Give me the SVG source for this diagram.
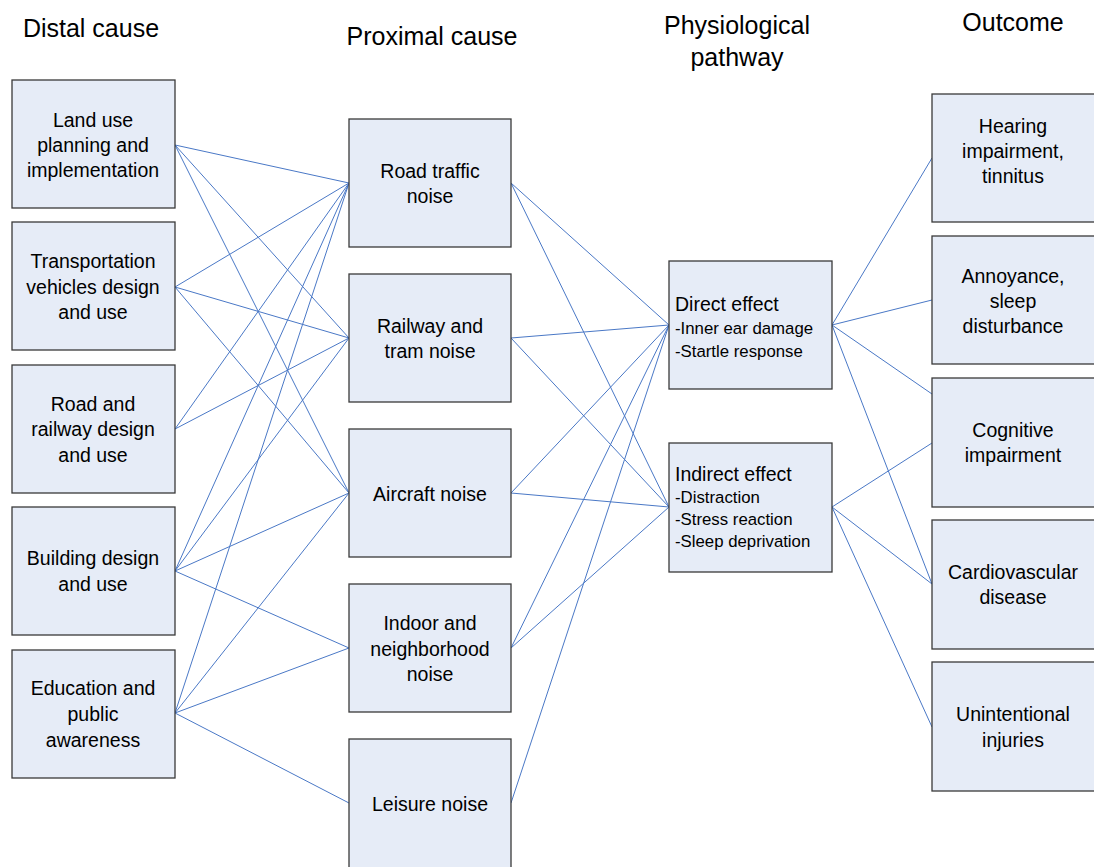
<svg xmlns="http://www.w3.org/2000/svg" width="1094" height="867" viewBox="0 0 1094 867">
<style>
.box{fill:#E6ECF7;stroke:#3a3a3a;stroke-width:1.3}
.t{font-family:"Liberation Sans",Arial,sans-serif;font-size:19.5px;fill:#000;text-anchor:middle}
.h{font-family:"Liberation Sans",Arial,sans-serif;font-size:25px;fill:#000;text-anchor:middle}
.s{font-family:"Liberation Sans",Arial,sans-serif;font-size:16.8px;fill:#000}
.c line{stroke:#4A78C6;stroke-width:1}
</style>
<rect width="1094" height="867" fill="#fff"/>
<g id="headers">
<text class="h" x="91" y="37">Distal cause</text>
<text class="h" x="432" y="45">Proximal cause</text>
<text class="h" x="737" y="34">Physiological</text>
<text class="h" x="737" y="66">pathway</text>
<text class="h" x="1013" y="31">Outcome</text>
</g>
<g id="connectors" class="c">
<line x1="175" y1="145" x2="349" y2="183"/>
<line x1="175" y1="145" x2="349" y2="338"/>
<line x1="175" y1="145" x2="349" y2="493"/>
<line x1="175" y1="287" x2="349" y2="183"/>
<line x1="175" y1="287" x2="349" y2="338"/>
<line x1="175" y1="287" x2="349" y2="493"/>
<line x1="175" y1="429" x2="349" y2="183"/>
<line x1="175" y1="429" x2="349" y2="338"/>
<line x1="175" y1="571" x2="349" y2="183"/>
<line x1="175" y1="571" x2="349" y2="338"/>
<line x1="175" y1="571" x2="349" y2="493"/>
<line x1="175" y1="571" x2="349" y2="648"/>
<line x1="175" y1="713" x2="349" y2="183"/>
<line x1="175" y1="713" x2="349" y2="493"/>
<line x1="175" y1="713" x2="349" y2="648"/>
<line x1="175" y1="713" x2="349" y2="803"/>
<line x1="511" y1="183" x2="669" y2="325"/>
<line x1="511" y1="183" x2="669" y2="507"/>
<line x1="511" y1="338" x2="669" y2="325"/>
<line x1="511" y1="338" x2="669" y2="507"/>
<line x1="511" y1="493" x2="669" y2="325"/>
<line x1="511" y1="493" x2="669" y2="507"/>
<line x1="511" y1="648" x2="669" y2="325"/>
<line x1="511" y1="648" x2="669" y2="507"/>
<line x1="511" y1="803" x2="669" y2="325"/>
<line x1="832" y1="325" x2="932" y2="158"/>
<line x1="832" y1="325" x2="932" y2="300"/>
<line x1="832" y1="325" x2="932" y2="394"/>
<line x1="832" y1="325" x2="932" y2="584"/>
<line x1="832" y1="507" x2="932" y2="443"/>
<line x1="832" y1="507" x2="932" y2="584"/>
<line x1="832" y1="507" x2="932" y2="727"/>
</g>
<g id="n-landuse"><rect class="box" x="12" y="80" width="163" height="128"/>
<text class="t" x="93" y="127">Land use</text><text class="t" x="93" y="152">planning and</text><text class="t" x="93" y="177">implementation</text></g>
<g id="n-transport"><rect class="box" x="12" y="222" width="163" height="128"/>
<text class="t" x="93" y="268">Transportation</text><text class="t" x="93" y="294">vehicles design</text><text class="t" x="93" y="319">and use</text></g>
<g id="n-roadrail"><rect class="box" x="12" y="365" width="163" height="128"/>
<text class="t" x="93" y="411">Road and</text><text class="t" x="93" y="436">railway design</text><text class="t" x="93" y="462">and use</text></g>
<g id="n-building"><rect class="box" x="12" y="507" width="163" height="128"/>
<text class="t" x="93" y="565">Building design</text><text class="t" x="93" y="591">and use</text></g>
<g id="n-education"><rect class="box" x="12" y="650" width="163" height="128"/>
<text class="t" x="93" y="695">Education and</text><text class="t" x="93" y="721">public</text><text class="t" x="93" y="747">awareness</text></g>
<g id="n-road"><rect class="box" x="349" y="119" width="162" height="128"/>
<text class="t" x="430" y="178">Road traffic</text><text class="t" x="430" y="203">noise</text></g>
<g id="n-railway"><rect class="box" x="349" y="274" width="162" height="128"/>
<text class="t" x="430" y="333">Railway and</text><text class="t" x="430" y="358">tram noise</text></g>
<g id="n-aircraft"><rect class="box" x="349" y="429" width="162" height="128"/>
<text class="t" x="430" y="501">Aircraft noise</text></g>
<g id="n-indoor"><rect class="box" x="349" y="584" width="162" height="128"/>
<text class="t" x="430" y="630">Indoor and</text><text class="t" x="430" y="656">neighborhood</text><text class="t" x="430" y="681">noise</text></g>
<g id="n-leisure"><rect class="box" x="349" y="739" width="162" height="140"/>
<text class="t" x="430" y="811">Leisure noise</text></g>
<g id="n-direct"><rect class="box" x="669" y="261" width="163" height="128"/>
<text class="s" x="675" y="311" style="font-size:19.5px">Direct effect</text>
<text class="s" x="675" y="334">-Inner ear damage</text>
<text class="s" x="675" y="357">-Startle response</text></g>
<g id="n-indirect"><rect class="box" x="669" y="443" width="163" height="129"/>
<text class="s" x="675" y="481" style="font-size:19.5px">Indirect effect</text>
<text class="s" x="675" y="503">-Distraction</text>
<text class="s" x="675" y="525">-Stress reaction</text>
<text class="s" x="675" y="547">-Sleep deprivation</text></g>
<g id="n-hearing"><rect class="box" x="932" y="94" width="164" height="128"/>
<text class="t" x="1013" y="133">Hearing</text><text class="t" x="1013" y="158">impairment,</text><text class="t" x="1013" y="183">tinnitus</text></g>
<g id="n-annoyance"><rect class="box" x="932" y="236" width="164" height="128"/>
<text class="t" x="1013" y="283">Annoyance,</text><text class="t" x="1013" y="308">sleep</text><text class="t" x="1013" y="333">disturbance</text></g>
<g id="n-cognitive"><rect class="box" x="932" y="378" width="164" height="129"/>
<text class="t" x="1013" y="437">Cognitive</text><text class="t" x="1013" y="462">impairment</text></g>
<g id="n-cardio"><rect class="box" x="932" y="520" width="164" height="129"/>
<text class="t" x="1013" y="579">Cardiovascular</text><text class="t" x="1013" y="604">disease</text></g>
<g id="n-injuries"><rect class="box" x="932" y="662" width="164" height="129"/>
<text class="t" x="1013" y="721">Unintentional</text><text class="t" x="1013" y="747">injuries</text></g>
</svg>
